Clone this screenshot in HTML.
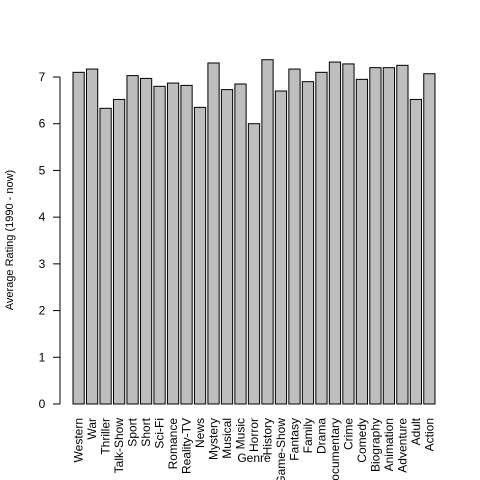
<!DOCTYPE html>
<html><head><meta charset="utf-8"><style>body{margin:0;background:#fff}svg{display:block}text{font-family:"Liberation Sans",Arial,sans-serif;font-size:12px;fill:#000}</style></head>
<body>
<svg id="chart" width="480" height="480" viewBox="0 0 480 480"><defs><clipPath id="clip"><rect x="0" y="0" width="480" height="480"/></clipPath></defs></svg>
<script>
const genres=["Western","War","Thriller","Talk-Show","Sport","Short","Sci-Fi","Romance","Reality-TV","News","Mystery","Musical","Music","Horror","History","Game-Show","Fantasy","Family","Drama","Documentary","Crime","Comedy","Biography","Animation","Adventure","Adult","Action"];
const ratings=[7.1,7.17,6.33,6.52,7.03,6.97,6.8,6.87,6.82,6.35,7.3,6.73,6.85,6.0,7.37,6.7,7.17,6.9,7.1,7.32,7.28,6.95,7.2,7.2,7.25,6.52,7.07];
const yTicks=[0,1,2,3,4,5,6,7];
const svg=document.getElementById('chart');
const NS='http://www.w3.org/2000/svg';
function mk(t,a,p){const e=document.createElementNS(NS,t);for(const k in a)e.setAttribute(k,a[k]);(p||svg).appendChild(e);return e;}
const y0=404,pxPerUnit=(404-77)/7;
function y(v){return y0-v*pxPerUnit;}
const unit=(435-73)/(genres.length*1.2-0.2);
function xl(i){return 73+i*1.2*unit;}
const lab=mk('g',{'clip-path':'url(#clip)'});
ratings.forEach((v,i)=>{
  const r=mk('rect',{x:xl(i),y:y(v),width:unit,height:y0-y(v),fill:'#bebebe',stroke:'#000','stroke-width':1});
  
  
  const t=mk('text',{transform:`translate(${xl(i)+unit/2+4},418) rotate(-90)`,'text-anchor':'end'},lab);
  t.textContent=genres[i];
  
  
});
const ax=mk('line',{x1:60,x2:60,y1:y(yTicks[0]),y2:y(yTicks[yTicks.length-1]),stroke:'#000'});


yTicks.forEach(v=>{
  mk('line',{x1:53,x2:60,y1:y(v),y2:y(v),stroke:'#000'});
  const t=mk('text',{x:42,y:y(v)+4,'text-anchor':'middle'});
  t.textContent=v;
  
  
});
const yt=mk('text',{transform:'translate(13,240) rotate(-90)','text-anchor':'middle','style':'font-size:11px'});
yt.textContent='Average Rating (1990 - now)';


const xt=mk('text',{x:254,y:462,'text-anchor':'middle'});
xt.textContent='Genre';


</script>
</body></html>
